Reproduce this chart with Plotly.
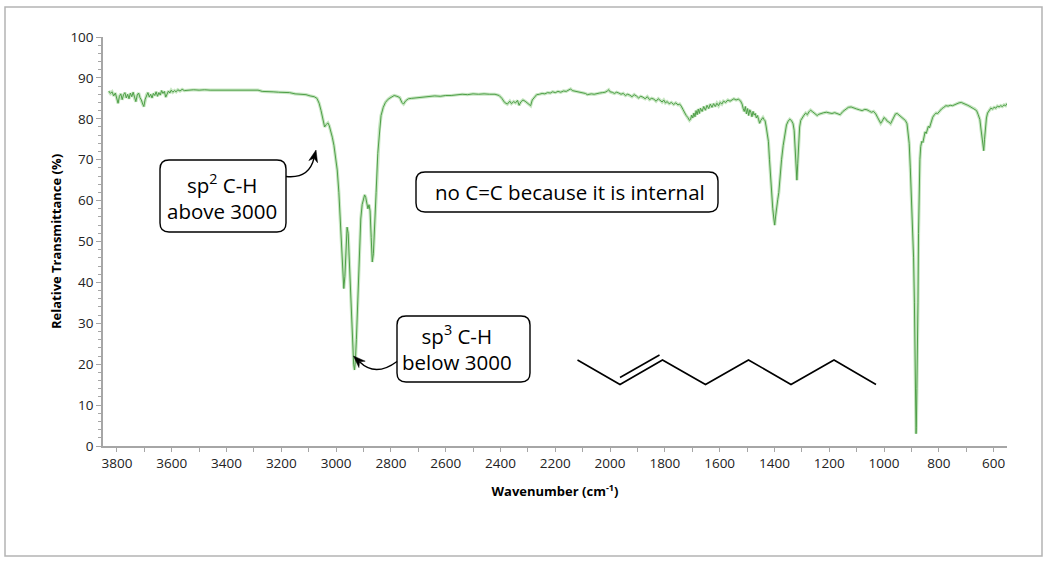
"""
IR spectrum of (E)-oct-2-ene with labelled C-H stretches
"""

import plotly.graph_objects as go

# wavenumber (cm-1) and relative transmittance (%)
wavenumber = [
    3830, 3824, 3818, 3812, 3806, 3800, 3796, 3791, 3786, 3781, 3776, 3771, 3766, 3761,
    3756, 3751, 3746, 3741, 3736, 3731, 3726, 3721, 3716, 3711, 3706, 3702, 3697, 3692,
    3687, 3682, 3677, 3672, 3667, 3662, 3657, 3652, 3647, 3642, 3637, 3632, 3627, 3622,
    3617, 3612, 3607, 3602, 3596, 3590, 3584, 3578, 3570, 3562, 3554,
    3540, 3520, 3500, 3480, 3460, 3440, 3420, 3400, 3380, 3360, 3340, 3320, 3300, 3285,
    3270, 3250, 3230, 3210, 3190, 3170, 3150, 3130, 3110, 3095, 3080, 3070, 3062, 3055,
    3048, 3042, 3036, 3030, 3025, 3020, 3014, 3008, 3002, 2996, 2990, 2985, 2980, 2976,
    2972, 2968, 2964, 2960, 2956, 2952, 2948, 2944, 2940, 2936, 2933, 2930, 2926, 2922,
    2918, 2914, 2910, 2905, 2900, 2896, 2892, 2888, 2884, 2880, 2876, 2872, 2868, 2864,
    2859, 2854, 2848, 2842, 2836, 2828, 2820, 2810, 2798, 2788, 2778, 2768, 2760, 2754,
    2746, 2736, 2724, 2710, 2700, 2680, 2660, 2640, 2620, 2600, 2580, 2560, 2540, 2520,
    2500, 2480, 2460, 2440, 2420, 2405, 2395, 2385, 2375, 2366, 2360, 2352, 2345, 2338,
    2332, 2326, 2318, 2310, 2302, 2296, 2290, 2284, 2276, 2268, 2258, 2248, 2238, 2228,
    2218, 2210, 2200, 2190, 2180, 2170, 2160, 2150, 2144, 2138, 2130, 2120, 2110, 2100,
    2090, 2083, 2076, 2068, 2058, 2048, 2038, 2028, 2018, 2010, 2005, 2000, 1992, 1984,
    1976, 1968, 1960, 1952, 1944, 1936, 1928, 1920, 1912, 1904, 1896, 1888, 1880, 1872,
    1864, 1856, 1848, 1840, 1832, 1824, 1816, 1810, 1804, 1798, 1792, 1784, 1776, 1768,
    1760, 1752, 1746, 1740, 1734, 1728, 1722, 1716, 1710, 1706, 1702, 1698, 1694, 1690,
    1686, 1682, 1678, 1674, 1670, 1664, 1658, 1652, 1646, 1640, 1634, 1628, 1622, 1616,
    1610, 1604, 1598, 1592, 1586, 1578, 1570, 1562, 1554, 1548, 1540, 1532, 1524, 1518,
    1514, 1510, 1506, 1502, 1498, 1494, 1490, 1486, 1482, 1478, 1474, 1470, 1466, 1462,
    1458, 1454, 1450, 1446, 1442, 1438, 1434, 1430, 1426, 1422, 1418, 1414, 1410, 1406,
    1402, 1399, 1396, 1392, 1388, 1384, 1380, 1374, 1368, 1362, 1356, 1350, 1344, 1338,
    1332, 1328, 1324, 1320, 1318, 1315, 1312, 1308, 1304, 1298, 1292, 1286, 1280, 1274,
    1268, 1262, 1256, 1250, 1244, 1238, 1230, 1220, 1210, 1200, 1190, 1180, 1170, 1160,
    1150, 1140, 1130, 1120, 1110, 1100, 1090, 1080, 1070, 1062, 1054, 1046, 1038, 1030,
    1024, 1018, 1012, 1006, 1000, 994, 988, 982, 976, 970, 964, 958, 952, 946,
    940, 934, 928, 922, 916, 912, 908, 904, 900, 896, 892, 889, 886, 884,
    883, 882, 880, 878, 876, 874, 872, 869, 866, 862, 858, 854, 850, 846,
    842, 838, 834, 830, 826, 822, 816, 810, 804, 798, 790, 782, 774, 766,
    758, 750, 742, 734, 726, 718, 710, 702, 694, 686, 678, 670, 662, 656,
    650, 646, 642, 639, 636, 633, 630, 626, 622, 616, 610, 604, 598, 592,
    586, 580, 574, 568, 562, 556, 550,
]
transmittance = [
    86.8, 86.2, 86.6, 85.6, 86.3, 84.9, 83.8, 85.5, 86.1, 84.7, 85.9, 86.4, 85.1, 86.0,
    84.9, 86.3, 85.4, 86.5, 85.0, 84.2, 85.8, 86.3, 85.2, 84.6, 83.6, 83.0, 84.8, 85.9,
    86.4, 85.3, 86.0, 85.1, 86.2, 85.7, 86.6, 85.5, 86.4, 85.8, 86.9, 86.2, 86.7, 85.3,
    86.1, 86.8, 86.3, 87.0, 86.5, 86.9, 86.6, 87.1, 86.8, 87.2, 86.9,
    87.0, 87.1, 87.0, 87.1, 87.0, 87.0, 87.0, 86.9, 87.0, 86.9, 86.9, 86.9, 86.9, 87.0,
    86.7, 86.7, 86.6, 86.5, 86.4, 86.4, 86.1, 86.0, 85.9, 85.6, 85.4, 85.0, 83.8, 82.0,
    79.5, 78.0, 78.6, 79.0, 78.3, 77.2, 75.5, 73.5, 71.0, 67.5, 62.0, 55.0, 47.0, 41.0,
    38.5, 41.5, 49.0, 53.5, 52.0, 45.0, 38.0, 31.0, 25.5, 20.0, 18.6, 20.5, 26.0, 34.0,
    43.0, 50.5, 55.5, 59.0, 60.8, 61.4, 60.8, 59.5, 58.0, 59.0, 57.5, 51.0, 45.0, 47.0,
    53.5, 62.0, 71.5, 77.5, 80.8, 82.8, 84.0, 84.8, 85.4, 85.7, 85.5, 85.2, 84.0, 83.6,
    84.4, 84.9, 85.0, 85.1, 85.2, 85.3, 85.5, 85.6, 85.5, 85.7, 85.7, 85.9, 86.0, 85.9,
    86.1, 86.0, 86.1, 86.0, 86.0, 85.7, 85.0, 84.0, 83.6, 84.3, 83.7, 84.2, 83.9, 84.5,
    83.3, 84.1, 84.6, 84.3, 83.9, 83.4, 83.2, 84.6, 85.4, 85.9, 86.0, 86.2, 86.1, 86.4,
    86.3, 86.6, 86.4, 86.7, 86.5, 86.8, 86.7, 87.0, 87.3, 86.9, 86.8, 86.6, 86.4, 86.3,
    86.2, 85.9, 86.0, 86.1, 86.0, 86.2, 86.3, 86.4, 86.5, 86.8, 87.1, 86.6, 86.5, 86.2,
    86.5, 86.3, 86.0, 86.2, 85.7, 86.0, 85.8, 85.4, 85.9, 85.6, 85.1, 85.5, 85.3, 84.9,
    85.4, 84.7, 85.0, 84.8, 84.3, 84.9, 84.5, 84.1, 84.6, 83.9, 84.2, 83.7, 84.0, 83.5,
    83.9, 83.4, 83.6, 83.1, 82.3, 81.4, 80.8, 80.3, 79.6, 79.9, 80.9, 80.2, 81.4, 80.5,
    82.0, 81.0, 82.4, 81.3, 82.6, 81.8, 83.0, 82.1, 83.3, 82.5, 83.6, 82.8, 83.7, 83.0,
    83.8, 83.2, 84.0, 83.6, 84.3, 84.0, 84.6, 84.3, 84.7, 84.9, 84.6, 84.8, 84.4, 83.6,
    82.5, 81.8, 83.0, 81.2, 82.5, 80.8, 82.2, 81.6, 80.5, 81.8, 80.9, 81.3, 80.2, 80.8,
    79.9, 78.9, 79.6, 80.0, 80.3, 79.8, 79.5, 78.0, 76.5, 74.5, 70.0, 65.0, 61.0, 58.0,
    55.5, 54.0, 56.0, 59.0, 60.2, 62.0, 66.0, 70.0, 73.5, 76.5, 78.5, 79.4, 79.9, 79.6,
    78.8, 77.2, 73.0, 67.0, 65.0, 69.0, 74.0, 78.0, 79.6, 80.4, 80.9, 81.4, 81.0, 81.7,
    82.1, 81.8, 81.4, 81.0, 80.8, 81.1, 81.3, 81.5, 81.6, 81.4, 81.3, 81.5, 81.2, 81.0,
    81.8, 82.4, 82.8, 82.9, 82.6, 82.4, 82.2, 82.0, 82.3, 82.2, 81.9, 81.6, 81.8, 81.2,
    80.4, 79.6, 78.9, 79.5, 80.3, 80.0, 79.4, 79.2, 78.8, 79.6, 80.5, 81.2, 81.3, 81.0,
    80.6, 80.3, 80.0, 79.6, 78.8, 77.0, 74.0, 68.0, 61.0, 53.0, 46.0, 35.0, 22.0, 10.0,
    3.0, 4.5, 14.0, 22.0, 35.0, 52.0, 63.0, 70.0, 73.2, 74.5, 74.2, 75.6, 76.8, 76.4,
    77.6, 78.2, 77.8, 78.6, 79.8, 80.4, 81.0, 81.4, 81.3, 81.8, 82.4, 82.8, 83.2, 83.1,
    83.3, 83.2, 83.5, 83.7, 83.9, 84.0, 83.8, 83.6, 83.3, 83.0, 82.7, 82.5, 82.0, 81.0,
    79.8, 77.5, 75.0, 72.5, 72.2, 75.0, 78.0, 80.2, 81.4, 82.2, 82.6, 82.4, 82.8, 82.6,
    83.1, 82.9, 83.2, 83.0, 83.4, 83.2, 83.8,
]

x_ticks = [3800, 3600, 3400, 3200, 3000, 2800, 2600, 2400, 2200, 2000,
           1800, 1600, 1400, 1200, 1000, 800, 600]
y_ticks = [0, 10, 20, 30, 40, 50, 60, 70, 80, 90, 100]

# page geometry (pixels) so boxes, arrows and the molecule can be placed in paper units
W, H = 1052, 564
PL, PR, PT, PB = 103, 1007, 37, 446


def px(x):
    return (x - PL) / (PR - PL)


def py(y):
    return (PB - y) / (PB - PT)


def rounded_box(x0, y0, x1, y1, r=9):
    return (f"M {px(x0 + r)},{py(y0)} L {px(x1 - r)},{py(y0)} "
            f"Q {px(x1)},{py(y0)} {px(x1)},{py(y0 + r)} "
            f"L {px(x1)},{py(y1 - r)} Q {px(x1)},{py(y1)} {px(x1 - r)},{py(y1)} "
            f"L {px(x0 + r)},{py(y1)} Q {px(x0)},{py(y1)} {px(x0)},{py(y1 - r)} "
            f"L {px(x0)},{py(y0 + r)} Q {px(x0)},{py(y0)} {px(x0 + r)},{py(y0)} Z")


def curved_arrow(p0, c, tip, length=12, half=4.5):
    dx, dy = tip[0] - c[0], tip[1] - c[1]
    n = (dx * dx + dy * dy) ** 0.5
    dx, dy = dx / n, dy / n
    bx, by = tip[0] - length * dx, tip[1] - length * dy
    nx, ny = -dy, dx
    notch = (tip[0] - 0.7 * length * dx, tip[1] - 0.7 * length * dy)
    curve = (f"M {px(p0[0])},{py(p0[1])} Q {px(c[0])},{py(c[1])} "
             f"{px(notch[0])},{py(notch[1])}")
    head = (f"M {px(tip[0])},{py(tip[1])} "
            f"L {px(bx + half * nx)},{py(by + half * ny)} "
            f"L {px(notch[0])},{py(notch[1])} "
            f"L {px(bx - half * nx)},{py(by - half * ny)} Z")
    return curve, head


fig = go.Figure()

fig.add_trace(go.Scatter(
    x=wavenumber, y=transmittance, mode="lines",
    line=dict(color="rgba(130,200,120,0.45)", width=3.2),
    hoverinfo="skip", showlegend=False
))
fig.add_trace(go.Scatter(
    x=wavenumber, y=transmittance, mode="lines",
    line=dict(color="#4f9f48", width=1),
    showlegend=False
))

shapes = []

# outer frame
shapes.append(dict(type="rect", xref="paper", yref="paper",
                   x0=px(5), y0=py(7), x1=px(1042), y1=py(556),
                   line=dict(color="#b4b4b4", width=1.5), layer="below"))

# label boxes
for b in [(160, 160, 286, 232), (397, 316, 530, 382), (416, 172, 718, 212)]:
    shapes.append(dict(type="path", xref="paper", yref="paper",
                       path=rounded_box(*b), fillcolor="white",
                       line=dict(color="black", width=1.4)))

# curved arrows
for p0, c, tip in [((286, 176.5), (309, 179), (316, 150)),
                   ((397, 361.5), (375.5, 377.5), (353.5, 356))]:
    curve, head = curved_arrow(p0, c, tip)
    shapes.append(dict(type="path", xref="paper", yref="paper", path=curve,
                       line=dict(color="black", width=1.4)))
    shapes.append(dict(type="path", xref="paper", yref="paper", path=head,
                       fillcolor="black", line=dict(color="black", width=0.5)))

# (E)-oct-2-ene skeletal structure
chain = [(577.5, 360), (620, 384.5), (662.5, 360), (705.5, 384.5),
         (748.5, 360), (791, 384.5), (834, 360), (876, 384.5)]
chain_path = "M " + " L ".join(f"{px(a)},{py(b)}" for a, b in chain)
shapes.append(dict(type="path", xref="paper", yref="paper", path=chain_path,
                   line=dict(color="black", width=1.6)))
shapes.append(dict(type="path", xref="paper", yref="paper",
                   path=f"M {px(620)},{py(377.5)} L {px(659.5)},{py(355)}",
                   line=dict(color="black", width=1.6)))

font_txt = dict(family="Open Sans", size=20.5, color="black")
annotations = [
    dict(x=px(222), y=py(197), text="sp<sup>2</sup> C-H<br>above 3000"),
    dict(x=px(457), y=py(348), text="sp<sup>3</sup> C-H<br>below 3000"),
    dict(x=px(570), y=py(192), text="no C=C because it is internal"),
]
for a in annotations:
    a.update(xref="paper", yref="paper", showarrow=False, font=font_txt,
             xanchor="center", yanchor="middle")

fig.update_layout(
    width=W, height=H,
    margin=dict(l=PL, r=W - PR, t=PT, b=H - PB),
    plot_bgcolor="white", paper_bgcolor="white",
    font=dict(family="Open Sans", size=13.5, color="#222"),
    shapes=shapes, annotations=annotations,
    showlegend=False,
    xaxis=dict(
        range=[3851, 551], tickvals=x_ticks, showgrid=False, zeroline=False,
        showline=True, linecolor="#a6a6a6", linewidth=1.5,
        ticks="outside", ticklen=4, tickcolor="#a6a6a6", tickwidth=1.2,
        minor=dict(dtick=100, tick0=0, ticks="outside", ticklen=4,
                   tickcolor="#a6a6a6", tickwidth=1.2, showgrid=False),
        tickfont=dict(size=13.5),
        title=dict(text="<b>Wavenumber (cm<sup>-1</sup>)</b>",
                   font=dict(size=13, color="black"), standoff=16),
    ),
    yaxis=dict(
        range=[0, 100], tickvals=y_ticks, showgrid=False, zeroline=False,
        showline=True, linecolor="#a6a6a6", linewidth=1.5,
        ticks="outside", ticklen=5, tickcolor="#a6a6a6", tickwidth=1.2,
        minor=dict(dtick=2, tick0=0, ticks="outside", ticklen=3,
                   tickcolor="#a6a6a6", tickwidth=1, showgrid=False),
        tickfont=dict(size=13.5),
        title=dict(text="<b>Relative Transmittance (%)</b>",
                   font=dict(size=13, color="black"), standoff=6),
    ),
)

# the page body has a default 8px margin; drop it so the figure sits at the window corner
fig.write_html("out.html", config={"displayModeBar": False},
               post_script="document.body.style.margin='0';")
